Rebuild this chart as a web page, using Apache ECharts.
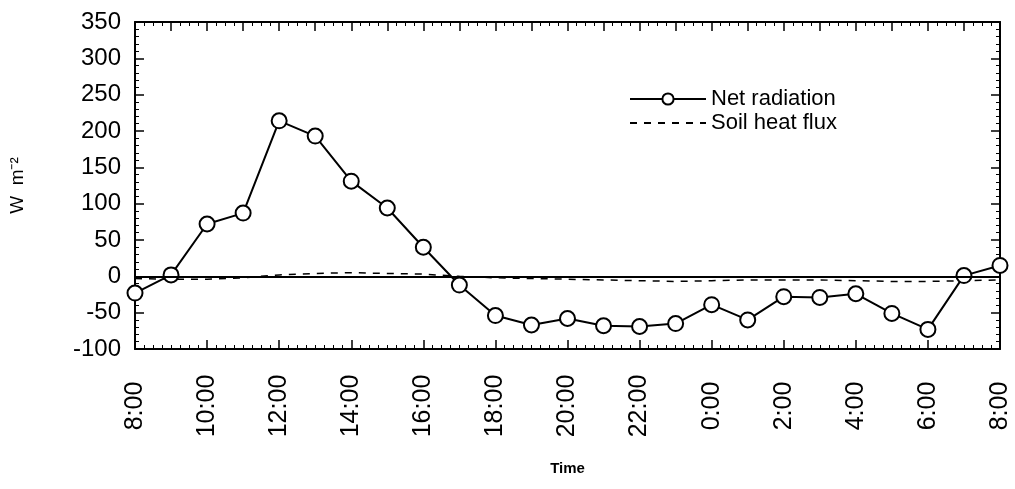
<!DOCTYPE html>
<html>
<head>
<meta charset="utf-8">
<script src="https://cdn.jsdelivr.net/npm/echarts@6/dist/echarts.min.js"></script>
<style>
  html, body { margin: 0; padding: 0; background: #fff; }
  #chart { width: 1015px; height: 489px; }
</style>
</head>
<body>
<div id="chart"></div>
<script>
// hourly readings, 8:00 to 8:00 next day
var hours = ['8:00','9:00','10:00','11:00','12:00','13:00','14:00','15:00','16:00','17:00',
  '18:00','19:00','20:00','21:00','22:00','23:00','0:00','1:00','2:00','3:00',
  '4:00','5:00','6:00','7:00','8:00'];
var netRadiation = [-23, 2, 72, 87, 214, 193, 131, 94, 40, -12,
  -54, -67, -58, -68, -69, -65, -39, -60, -28, -29,
  -24, -51, -73, 1, 15];
var soilHeatFlux = [-3, -4, -4, -2, 2, 4, 5, 4, 3, 0,
  -2, -3, -4, -5, -6, -7, -6, -5, -5, -5,
  -6, -7, -7, -6, -5];
var yTicks = [-100, -50, 0, 50, 100, 150, 200, 250, 300, 350];

function pairs(arr) {
  return arr.map(function (v, i) { return [i, v]; });
}

var font = 'Liberation Sans, Arial, sans-serif';
var myChart = echarts.init(document.getElementById('chart'));

var tickStyle = { inside: true, length: 9, lineStyle: { color: '#000', width: 1.5 } };
var minorStyle = { show: true, length: 4, lineStyle: { color: '#000', width: 1 } };
var axisLine = { show: true, onZero: false, lineStyle: { color: '#000', width: 2 } };

myChart.setOption({
  animation: false,
  backgroundColor: '#fff',
  grid: { left: 134, right: 15, top: 22, bottom: 140 },
  legend: {
    orient: 'vertical',
    left: 624,
    top: 83,
    itemWidth: 76,
    itemHeight: 14,
    itemGap: 2,
    textStyle: { fontFamily: font, fontSize: 22, color: '#000' },
    data: ['Net radiation', 'Soil heat flux']
  },
  xAxis: [{
    type: 'value',
    min: 0,
    max: 24,
    interval: 2,
    name: 'Time',
    nameLocation: 'middle',
    nameGap: 112,
    nameTextStyle: { fontFamily: font, fontSize: 15, fontWeight: 'bold', color: '#000' },
    axisLine: axisLine,
    axisTick: tickStyle,
    minorTick: Object.assign({ splitNumber: 8 }, minorStyle),
    splitLine: { show: false },
    axisLabel: {
      rotate: 90,
      align: 'center',
      verticalAlign: 'middle',
      margin: 57,
      fontFamily: font,
      fontSize: 25,
      color: '#000',
      formatter: function (v) { return hours[v]; }
    }
  }, {
    type: 'value',
    position: 'top',
    min: 0,
    max: 24,
    interval: 1,
    axisLine: axisLine,
    axisTick: tickStyle,
    minorTick: Object.assign({ splitNumber: 4 }, minorStyle),
    splitLine: { show: false },
    axisLabel: { show: false }
  }],
  yAxis: [{
    type: 'value',
    min: -100,
    max: 350,
    interval: 50,
    name: 'W  m\u207B\u00B2',
    nameLocation: 'middle',
    nameRotate: 90,
    nameGap: 108,
    nameTextStyle: { fontFamily: font, fontSize: 19, color: '#000' },
    axisLine: axisLine,
    axisTick: tickStyle,
    minorTick: Object.assign({ splitNumber: 5 }, minorStyle),
    splitLine: { show: false },
    axisLabel: {
      margin: 14,
      fontFamily: font,
      fontSize: 24,
      color: '#000',
      formatter: function (v) { return yTicks.indexOf(v) >= 0 ? String(v) : ''; }
    }
  }, {
    type: 'value',
    position: 'right',
    min: -100,
    max: 350,
    interval: 50,
    axisLine: axisLine,
    axisTick: tickStyle,
    minorTick: Object.assign({ splitNumber: 5 }, minorStyle),
    splitLine: { show: false },
    axisLabel: { show: false }
  }],
  series: [
    {
      name: 'Net radiation',
      type: 'line',
      data: pairs(netRadiation),
      symbol: 'circle',
      symbolSize: 15,
      showAllSymbol: true,
      lineStyle: { color: '#000', width: 2 },
      itemStyle: { color: '#fff', borderColor: '#000', borderWidth: 2 },
      z: 3,
      markLine: {
        silent: true,
        symbol: 'none',
        label: { show: false },
        lineStyle: { color: '#000', width: 2, type: 'solid' },
        data: [{ yAxis: 0 }]
      }
    },
    {
      name: 'Soil heat flux',
      type: 'line',
      data: pairs(soilHeatFlux),
      symbol: 'none',
      lineStyle: { color: '#000', width: 1.5, type: [7, 7] },
      itemStyle: { color: 'rgba(0,0,0,0)' },
      z: 2
    }
  ]
});
</script>
</body>
</html>
